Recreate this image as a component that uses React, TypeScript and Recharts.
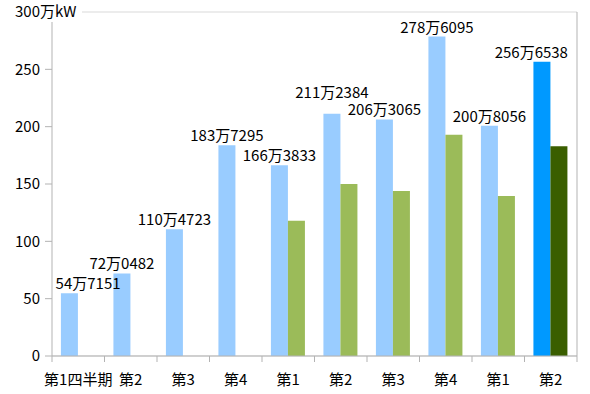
import React from "react";
import { BarChart, Bar, XAxis, YAxis, CartesianGrid, Cell, LabelList } from "recharts";

const categories = ["第1四半期", "第2", "第3", "第4", "第1", "第2", "第3", "第4", "第1", "第2"];
const outputKW = [547151, 720482, 1104723, 1837295, 1663833, 2112384, 2063065, 2786095, 2008056, 2566538];
const compareValues: (number | null)[] = [null, null, null, null, 118, 150, 144, 193, 139.5, 183];
const yTicks = [0, 50, 100, 150, 200, 250, 300];
const yUnit = "万kW";

const currentColor = "#99ccff";
const currentHighlight = "#0099ff";
const compareColor = "#9bbb59";
const compareHighlight = "#3a5e00";
const FONT = "'Noto Sans CJK JP', 'Liberation Sans', sans-serif";

const data = categories.map((c, i) => ({
  idx: i,
  label: c,
  current: outputKW[i] / 10000,
  compare: compareValues[i],
  kw: outputKW[i],
}));

const fmt = (kw: number) => {
  const man = Math.floor(kw / 10000);
  const rest = kw % 10000;
  return `${man}万${String(rest).padStart(4, "0")}`;
};

const W = 590;
const H = 394;
const LEFT_LIMIT = 53;
const RIGHT_LIMIT = 571;
const LABEL_GAP = 4;
const LABEL_W = 69;

const XTick = (props: any) => {
  const { x, y, payload, index } = props;
  const half = payload && payload.offset ? payload.offset : 26.2;
  const n = categories.length;
  return (
    <g>
      <line x1={x - half} x2={x - half} y1={y} y2={y + 6} stroke="#b3b3b3" />
      {index === n - 1 && <line x1={x + half} x2={x + half} y1={y} y2={y + 6} stroke="#b3b3b3" />}
      <text x={x} y={y + 29} textAnchor="middle" fontSize={15} fontFamily={FONT} fill="#000">
        {categories[payload.value]}
      </text>
    </g>
  );
};

const YTick = (props: any) => {
  const { x, y, payload } = props;
  const v = payload.value;
  if (v === 300) {
    return (
      <g>
        <rect x={x - 28} y={y - 10} width={70} height={20} fill="#fff" />
        <text x={x} y={y} dy="0.35em" textAnchor="end" fontSize={15} fontFamily={FONT} fill="#000">
          {v}
        </text>
        <text x={x} y={y} dy="0.35em" textAnchor="start" fontSize={15} fontFamily={FONT} fill="#000">
          {yUnit}
        </text>
      </g>
    );
  }
  return (
    <text x={x} y={y} dy="0.35em" textAnchor="end" fontSize={15} fontFamily={FONT} fill="#000">
      {v}
    </text>
  );
};

const ValueLabel = (props: any) => {
  const { x, y, width, height, index } = props;
  const text = fmt(outputKW[index]);
  const estW = 15 + (text.length - 1) * 9.2;
  const value = outputKW[index] / 10000;
  const k = value ? height / value : 0;
  const base = y + height;
  let baseline = y - LABEL_GAP;
  // avoid collision with the next label (shift up like the original)
  if (index < outputKW.length - 1 && k) {
    const nextTop = base - (outputKW[index + 1] / 10000) * k;
    const nextBaseline = nextTop - LABEL_GAP;
    const step = width * 3.03; // distance between bar centres
    if (step < LABEL_W + 2 && Math.abs(baseline - nextBaseline) < 14) {
      baseline = Math.min(baseline, nextBaseline - 17);
    }
  }
  let cx = x + width / 2;
  if (cx + estW / 2 > RIGHT_LIMIT) cx = RIGHT_LIMIT - estW / 2;
  if (cx - estW / 2 < LEFT_LIMIT) cx = LEFT_LIMIT + estW / 2;
  return (
    <text x={cx} y={baseline} textAnchor="middle" fontSize={15} fontFamily={FONT} fill="#000">
      {text}
    </text>
  );
};

export default function App() {
  return (
    <div style={{ position: "absolute", left: 0, top: 0, width: W, height: H, background: "#fff" }}>
      <BarChart
        width={W}
        height={H}
        data={data}
        margin={{ top: 12, right: 12, bottom: 8, left: 0 }}
        barCategoryGap="17%"
        barGap={0}
      >
        <CartesianGrid vertical={false} stroke="#d9d9d9" />
        <XAxis
          dataKey="idx"
          type="category"
          height={30}
          tickLine={false}
          tickSize={0}
          tickMargin={0}
          axisLine={{ stroke: "#b3b3b3" }}
          tick={<XTick />}
          interval={0}
        />
        <YAxis
          yAxisId="left"
          width={52}
          domain={[0, 300]}
          ticks={yTicks}
          interval={0}
          tickSize={7}
          tickMargin={5}
          axisLine={{ stroke: "#b3b3b3" }}
          tickLine={{ stroke: "#b3b3b3" }}
          tick={<YTick />}
        />
        <YAxis
          yAxisId="right"
          orientation="right"
          width={1}
          domain={[0, 300]}
          tick={false}
          tickLine={false}
          axisLine={{ stroke: "#b3b3b3" }}
        />
        <Bar yAxisId="left" dataKey="current" isAnimationActive={false}>
          {data.map((d, i) => (
            <Cell key={i} fill={i === data.length - 1 ? currentHighlight : currentColor} />
          ))}
          <LabelList dataKey="current" content={<ValueLabel />} />
        </Bar>
        <Bar yAxisId="left" dataKey="compare" isAnimationActive={false}>
          {data.map((d, i) => (
            <Cell key={i} fill={i === data.length - 1 ? compareHighlight : compareColor} />
          ))}
        </Bar>
      </BarChart>
    </div>
  );
}
